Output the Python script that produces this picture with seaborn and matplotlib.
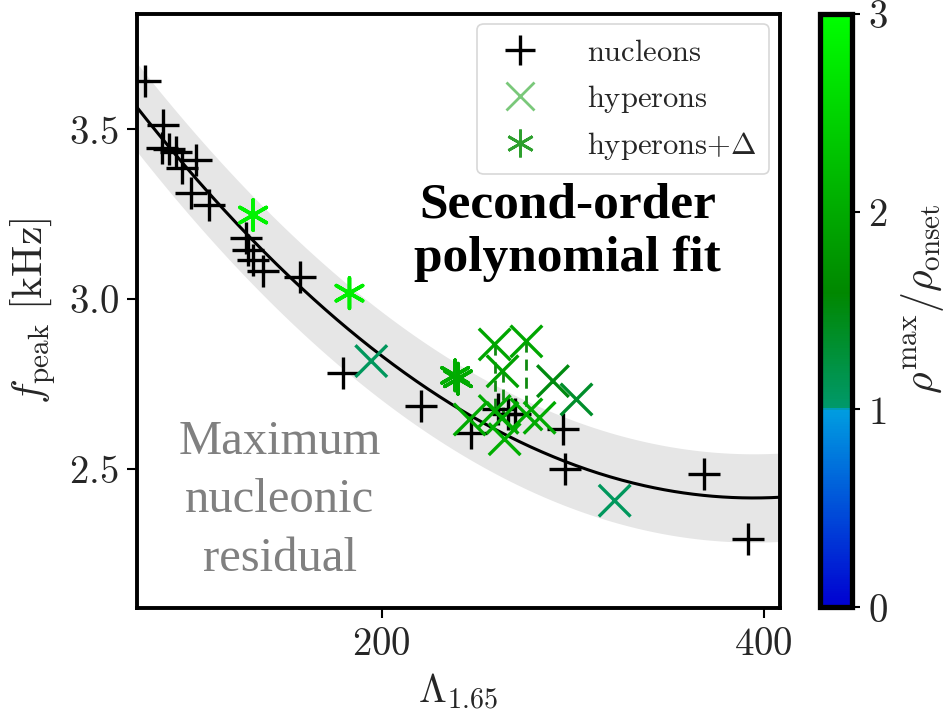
import numpy as np
import pandas as pd
import matplotlib
matplotlib.use("Agg")
import matplotlib.pyplot as plt
import seaborn as sns
from matplotlib.colors import LinearSegmentedColormap, Normalize
from matplotlib.cm import ScalarMappable
from matplotlib.lines import Line2D
from matplotlib.ticker import FixedLocator, FuncFormatter

# ---- data -------------------------------------------------------------
nuc_lambda = [76.2, 85.6, 85.0, 88.5, 92.5, 95.5, 103.1, 100.5, 109.5, 129.2,
              130.0, 132.6, 137.8, 157.1, 179.8, 220.8, 247.0, 260.9, 266.0,
              270.0, 295.0, 295.8, 369.0, 391.8]
nuc_fpeak = [3.643, 3.513, 3.445, 3.440, 3.432, 3.386, 3.408, 3.312, 3.276, 3.178,
             3.144, 3.115, 3.081, 3.066, 2.782, 2.685, 2.604, 2.675, 2.660,
             2.660, 2.617, 2.499, 2.484, 2.294]

hyp_lambda = [194.6, 246.1, 259.2, 263.3, 259.2, 263.3, 264.4, 275.8, 275.8,
              282.7, 289.7, 302.0, 322.0]
hyp_fpeak = [2.817, 2.645, 2.866, 2.787, 2.670, 2.650, 2.587, 2.875, 2.660,
             2.650, 2.758, 2.704, 2.406]
hyp_ratio = [1.08, 2.0, 1.95, 1.9, 2.0, 2.0, 2.05, 1.95, 2.0, 2.0, 1.5, 1.35, 1.08]

del_lambda = [132.8, 183.2, 238.5, 240.0]
del_fpeak = [3.247, 3.017, 2.775, 2.765]
del_ratio = [2.85, 2.8, 2.05, 2.0]

# vertical links between paired hyperon models
link_lambda = [259.2, 263.3, 275.8]
link_top = [2.866, 2.787, 2.875]
link_bottom = [2.670, 2.650, 2.660]

# second-order polynomial fit (highest power first) and max nucleonic residual
fit_coeffs = [1.1044e-5, -8.718e-3, 4.1345]
fit_residual = 0.13

x_ticks = [200, 400]
y_ticks = [2.5, 3.0, 3.5]
cbar_ticks = [0, 1, 2, 3]

# ---- style ------------------------------------------------------------
sns.set_theme(style="ticks")
plt.rcParams["mathtext.fontset"] = "cm"
plt.rcParams["font.family"] = ["DejaVu Serif"]

cmap = LinearSegmentedColormap.from_list(
    "rho_ratio",
    [(0.0, (0.0, 0.0, 0.82)),
     (0.3333, (0.0, 0.62, 0.88)),
     (0.3334, (0.0, 0.60, 0.42)),
     (0.53, (0.0, 0.53, 0.0)),
     (1.0, (0.0, 1.0, 0.0))])
norm = Normalize(0, 3)

fig = plt.figure(figsize=(9.46, 7.17), dpi=100)
ax = fig.add_axes([0.1448, 0.152, 0.6797, 0.829])
cax = fig.add_axes([0.867, 0.153, 0.034, 0.828])

# fit curve with residual band
xs = np.linspace(70, 410, 400)
fit = np.polyval(fit_coeffs, xs)
ax.fill_between(xs, fit - fit_residual, fit + fit_residual, color="#e6e6e6",
                lw=0, zorder=0)
sns.lineplot(x=xs, y=fit, ax=ax, color="black", lw=2.2, zorder=2)

# dashed links
for lx, lt, lb in zip(link_lambda, link_top, link_bottom):
    ax.plot([lx, lx], [lt, lb], ls=(0, (4, 2.5)), color="#108a10", lw=2.0, zorder=2)

nuc_df = pd.DataFrame({"lam": nuc_lambda, "f": nuc_fpeak})
hyp_df = pd.DataFrame({"lam": hyp_lambda, "f": hyp_fpeak, "r": hyp_ratio})
del_df = pd.DataFrame({"lam": del_lambda, "f": del_fpeak, "r": del_ratio})

sns.scatterplot(data=nuc_df, x="lam", y="f", ax=ax, marker="+", s=520,
                color="black", linewidth=2.4, legend=False, zorder=3)
sns.scatterplot(data=hyp_df, x="lam", y="f", hue="r", palette=cmap,
                hue_norm=norm, ax=ax, marker="x", s=520, linewidth=2.4,
                legend=False, zorder=3)
sns.scatterplot(data=del_df, x="lam", y="f", hue="r", palette=cmap,
                hue_norm=norm, ax=ax, marker=(6, 2, 0), s=480, linewidth=2.6,
                legend=False, zorder=3)

ax.set_xlim(72, 408.5)
ax.set_ylim(2.09, 3.84)

ax.xaxis.set_major_locator(FixedLocator(x_ticks))
ax.yaxis.set_major_locator(FixedLocator(y_ticks))
ax.xaxis.set_major_formatter(FuncFormatter(lambda v, p: r"$%d$" % v))
ax.yaxis.set_major_formatter(FuncFormatter(lambda v, p: r"$%.1f$" % v))
ax.tick_params(labelsize=28, length=7, width=1.5, direction="out", pad=6,
               color="black")
for sp in ax.spines.values():
    sp.set_linewidth(2.8)
    sp.set_color("black")

ax.set_xlabel(r"$\Lambda_{1.65}$", fontsize=29, labelpad=6)
ax.set_ylabel(r"$f_{\rm peak}\ [{\rm kHz}]$", fontsize=30, labelpad=8)

ax.text(0.67, 0.632, "Second-order\npolynomial fit", transform=ax.transAxes,
        ha="center", va="center", fontsize=37, fontweight="bold",
        family="Liberation Serif", color="black", linespacing=1.2)
ax.text(0.222, 0.181, "Maximum\nnucleonic\nresidual", transform=ax.transAxes,
        ha="center", va="center", fontsize=35, family="Liberation Serif",
        color="#808080", linespacing=1.42)

handles = [
    Line2D([], [], ls="none", marker="+", ms=22, mew=2.4, color="black"),
    Line2D([], [], ls="none", marker="x", ms=20, mew=2.0, color="#7ac87a"),
    Line2D([], [], ls="none", marker=(6, 2, 0), ms=20, mew=2.0, color="#2ea02e"),
]
labels = [r"$\mathrm{nucleons}$", r"$\mathrm{hyperons}$", r"$\mathrm{hyperons}{+}\Delta$"]
leg = ax.legend(handles, labels, loc="upper right", fontsize=22, frameon=True,
                fancybox=True, framealpha=1, edgecolor="#d8d8d8",
                handletextpad=1.2, labelspacing=0.5, borderpad=0.4,
                borderaxespad=0.35, handlelength=2.0)
leg.get_frame().set_linewidth(1.2)

# colour bar
cb = fig.colorbar(ScalarMappable(norm=norm, cmap=cmap), cax=cax)
cb.set_ticks(cbar_ticks)
cb.ax.yaxis.set_major_formatter(FuncFormatter(lambda v, p: r"$%d$" % v))
cb.ax.tick_params(labelsize=28, length=6, width=1.5, pad=5, color="black")
cb.outline.set_linewidth(3.8)
cb.outline.set_edgecolor("black")
cb.set_label(r"$\rho^{\rm max}/\rho_{\rm onset}$", fontsize=30)
cb.ax.yaxis.set_label_coords(2.45, 0.52)

fig.savefig("out.png", dpi=100)
